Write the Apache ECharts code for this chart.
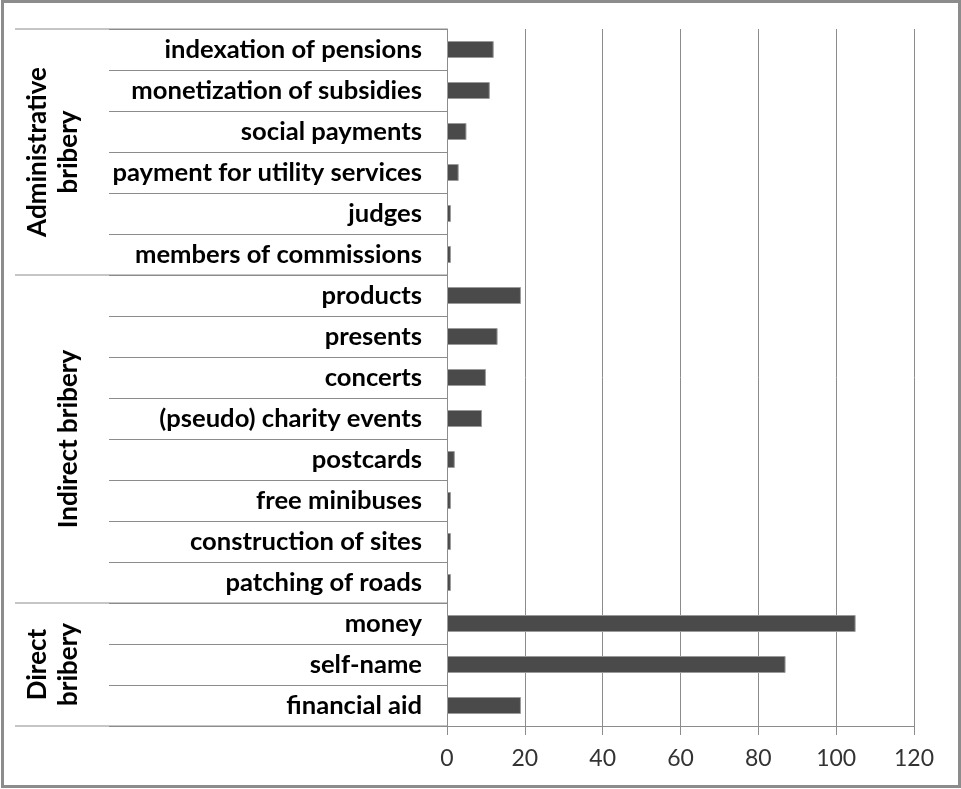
<!DOCTYPE html>
<html>
<head>
<meta charset="utf-8">
<script src="https://cdn.jsdelivr.net/npm/echarts@6/dist/echarts.min.js"></script>
<style>
  html, body { margin: 0; padding: 0; background: #ffffff; }
  #chart { width: 961px; height: 789px; }
</style>
</head>
<body>
<div id="chart"></div>
<script>
// Categories, listed top to bottom
const categories = [
  'indexation of pensions',
  'monetization of subsidies',
  'social payments',
  'payment for utility services',
  'judges',
  'members of commissions',
  'products',
  'presents',
  'concerts',
  '(pseudo) charity events',
  'postcards',
  'free minibuses',
  'construction of sites',
  'patching of roads',
  'money',
  'self-name',
  'financial aid'
];

// Number of mentions for each category
const values = [12, 11, 5, 3, 1, 1, 19, 13, 10, 9, 2, 1, 1, 1, 105, 87, 19];

// Outer grouping of the categories
const groupNames = ['Administrative\nbribery', 'Indirect bribery', 'Direct\nbribery'];
const groupSizes = [6, 8, 3];

// Value axis ticks
const axisMin = 0;
const axisMax = 120;
const axisStep = 20;

const LINE = '#8c8c8c';
const FONT = 'Lato, "Open Sans", sans-serif';

const chart = echarts.init(document.getElementById('chart'), null, { renderer: 'canvas' });

const option = {
  animation: false,
  backgroundColor: '#ffffff',
  grid: { left: 447, right: 47, top: 29, bottom: 63, containLabel: false },
  xAxis: {
    type: 'value',
    min: axisMin,
    max: axisMax,
    interval: axisStep,
    axisLine: { show: true, lineStyle: { color: LINE, width: 1 } },
    axisTick: { show: true, length: 9, lineStyle: { color: LINE } },
    splitLine: { show: true, lineStyle: { color: LINE, width: 1 } },
    axisLabel: { color: '#333333', fontFamily: FONT, fontSize: 23, margin: 21 }
  },
  yAxis: {
    type: 'category',
    inverse: true,
    data: categories,
    axisLine: { show: true, lineStyle: { color: LINE, width: 1 } },
    axisTick: { show: true, length: 338, lineStyle: { color: LINE, width: 1 } },
    axisLabel: { color: '#000000', fontFamily: FONT, fontWeight: 'bold', fontSize: 25.6, margin: 25 }
  },
  series: [{
    type: 'bar',
    data: values,
    barWidth: 17,
    silent: true,
    itemStyle: { color: '#4a4a4a', borderColor: '#9a9a9a', borderWidth: 1 }
  }]
};

chart.setOption(option);

// Group separators and rotated group titles, placed from the category scale
const c0 = chart.convertToPixel({ yAxisIndex: 0 }, 0);
const c1 = chart.convertToPixel({ yAxisIndex: 0 }, 1);
const band = c1 - c0;
const boundary = i => c0 + (i - 0.5) * band;
const axisX = chart.convertToPixel({ xAxisIndex: 0 }, axisMin);

const graphics = [];
let start = 0;
graphics.push({
  type: 'line', silent: true,
  shape: { x1: 15, y1: boundary(0), x2: axisX, y2: boundary(0) },
  style: { stroke: LINE, lineWidth: 1 }
});
groupSizes.forEach((size, g) => {
  const end = start + size;
  const yEnd = boundary(end);
  graphics.push({
    type: 'line', silent: true,
    shape: { x1: 15, y1: yEnd, x2: axisX, y2: yEnd },
    style: { stroke: LINE, lineWidth: 1 }
  });
  const mid = (boundary(start) + yEnd) / 2;
  graphics.push({
    type: 'text', silent: true,
    x: 84, y: mid, rotation: Math.PI / 2,
    style: {
      text: groupNames[g],
      fill: '#000000',
      font: 'bold 26px ' + FONT,
      lineHeight: 31,
      align: 'center',
      verticalAlign: 'bottom'
    }
  });
  start = end;
});
// Outer frame
graphics.push({
  type: 'rect', silent: true,
  shape: { x: 2.5, y: 1.5, width: 957, height: 785 },
  style: { fill: 'none', stroke: '#8c8c8c', lineWidth: 3 }
});

chart.setOption({ graphic: graphics });
</script>
</body>
</html>
